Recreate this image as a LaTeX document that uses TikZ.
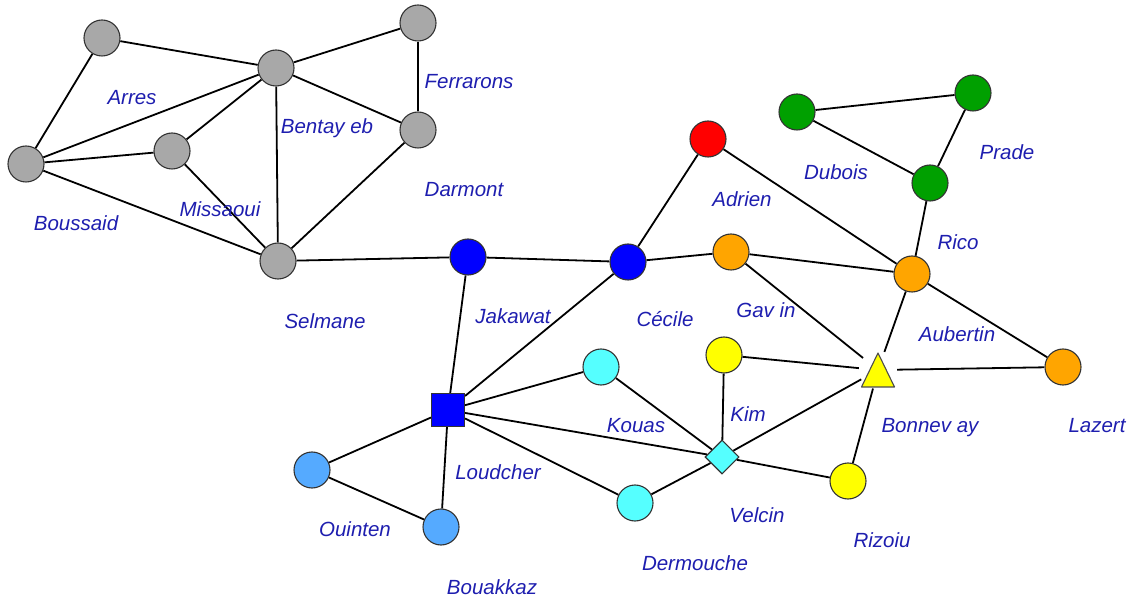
\documentclass[tikz,border=0pt]{standalone}
\usepackage{fontspec}
\setmainfont{Liberation Sans}
\usetikzlibrary{shapes.geometric,backgrounds,calc}
\definecolor{lbl}{RGB}{30,30,175}
\definecolor{cgray}{RGB}{168,168,168}
\definecolor{cblue}{RGB}{0,0,255}
\definecolor{cred}{RGB}{255,0,0}
\definecolor{corange}{RGB}{255,165,0}
\definecolor{cgreen}{RGB}{0,160,0}
\definecolor{cyellow}{RGB}{255,255,0}
\definecolor{ccyan}{RGB}{85,255,255}
\definecolor{clblue}{RGB}{85,170,255}
\begin{document}
\begin{tikzpicture}[x=1pt,y=-1pt,
  vtx/.style={circle,draw=black!80,line width=1.1pt,minimum size=36pt,inner sep=0pt},
  sqv/.style={rectangle,draw=black!80,line width=1.1pt,minimum size=33pt,inner sep=0pt},
  dmv/.style={diamond,draw=black!80,line width=1.1pt,minimum width=34pt,minimum height=34pt,inner sep=0pt},
  lab/.style={text=lbl,font=\fontsize{20.5}{24}\selectfont\itshape,inner sep=0pt},
  edge/.style={line width=1.8pt,black}]
\useasboundingbox (0,0) rectangle (1138,601);
% gray cluster
\node[vtx,fill=cgray] (g1) at (102,38) {};
\node[vtx,fill=cgray] (g2) at (418,23) {};
\node[vtx,fill=cgray] (bent) at (276,68) {};
\node[vtx,fill=cgray] (ferr) at (418,130) {};
\node[vtx,fill=cgray] (miss) at (172,151) {};
\node[vtx,fill=cgray] (bous) at (26,164) {};
\node[vtx,fill=cgray] (selm) at (278,261) {};
% blue / red
\node[vtx,fill=cblue] (jaka) at (468,257) {};
\node[vtx,fill=cblue] (ceci) at (628,262) {};
\node[vtx,fill=cred] (adri) at (708,139) {};
% orange
\node[vtx,fill=corange] (gavi) at (731,252) {};
\node[vtx,fill=corange] (rico) at (912,274) {};
\node[vtx,fill=corange] (laze) at (1063,367) {};
% green
\node[vtx,fill=cgreen] (dubo) at (797,112) {};
\node[vtx,fill=cgreen] (prad) at (973,93) {};
\node[vtx,fill=cgreen] (gric) at (930,183) {};
% yellow
\node[circle,minimum size=38pt,inner sep=0pt] (bonn) at (878,370) {};
\filldraw[fill=cyellow,draw=black!70,line width=1.1pt,line join=round]
  ($(bonn)+(0,-17)$) -- ($(bonn)+(16.5,17)$) -- ($(bonn)+(-16.5,17)$) -- cycle;
\node[vtx,fill=cyellow] (kim) at (724,355) {};
\node[vtx,fill=cyellow] (rizo) at (848,481) {};
% cyan
\node[dmv,fill=ccyan] (velc) at (722,457) {};
\node[vtx,fill=ccyan] (koua) at (601,367) {};
\node[vtx,fill=ccyan] (derm) at (635,503) {};
% loucher etc
\node[sqv,fill=cblue] (louc) at (448,410) {};
\node[vtx,fill=clblue] (ouin) at (312,470) {};
\node[vtx,fill=clblue] (boua) at (441,527) {};

\begin{pgfonlayer}{background}
\draw[edge] (g1) -- (bous);
\draw[edge] (g1) -- (bent);
\draw[edge] (bent) -- (g2);
\draw[edge] (g2) -- (ferr);
\draw[edge] (bent) -- (ferr);
\draw[edge] (bent) -- (bous);
\draw[edge] (bent) -- (miss);
\draw[edge] (bent) -- (selm);
\draw[edge] (bous) -- (miss);
\draw[edge] (bous) -- (selm);
\draw[edge] (miss) -- (selm);
\draw[edge] (ferr) -- (selm);
\draw[edge] (selm) -- (jaka);
\draw[edge] (jaka) -- (ceci);
\draw[edge] (jaka) -- (louc);
\draw[edge] (ceci) -- (adri);
\draw[edge] (ceci) -- (gavi);
\draw[edge] (ceci) -- (louc);
\draw[edge] (adri) -- (rico);
\draw[edge] (gavi) -- (rico);
\draw[edge] (gavi) -- (bonn);
\draw[edge] (rico) -- (gric);
\draw[edge] (dubo) -- (prad);
\draw[edge] (dubo) -- (gric);
\draw[edge] (prad) -- (gric);
\draw[edge] (rico) -- (laze);
\draw[edge] (rico) -- (bonn);
\draw[edge] (bonn) -- (laze);
\draw[edge] (bonn) -- (kim);
\draw[edge] (bonn) -- (velc);
\draw[edge] (bonn) -- (rizo);
\draw[edge] (kim) -- (velc);
\draw[edge] (velc) -- (rizo);
\draw[edge] (velc) -- (koua);
\draw[edge] (velc) -- (louc);
\draw[edge] (velc) -- (derm);
\draw[edge] (louc) -- (koua);
\draw[edge] (louc) -- (derm);
\draw[edge] (louc) -- (ouin);
\draw[edge] (louc) -- (boua);
\draw[edge] (ouin) -- (boua);
\end{pgfonlayer}

% labels
\node[lab] (l1) at (132,98) {Arres};
\node[lab] (l2) at (327,128) {Bentay eb};
\node[lab] (l3) at (469,82) {Ferrarons};
\node[lab] (l4) at (76,223) {Boussaid};
\node[lab] (l5) at (220,209) {Missaoui};
\node[lab] (l6) at (464,190) {Darmont};
\node[lab] (l7) at (325,321) {Selmane};
\node[lab] (l8) at (513,316) {Jakawat};
\node[lab] (l9) at (665,319) {Cécile};
\node[lab] (l10) at (742,199) {Adrien};
\node[lab] (l11) at (766,310) {Gav in};
\node[lab] (l12) at (836,172) {Dubois};
\node[lab] (l13) at (1007,152) {Prade};
\node[lab] (l14) at (958,242) {Rico};
\node[lab] (l15) at (957,334) {Aubertin};
\node[lab] (l16) at (930,428) {Bonnev ay};
\node[lab] (l17) at (1097,426) {Lazert};
\node[lab] (l18) at (748,414) {Kim};
\node[lab] (l19) at (636,426) {Kouas};
\node[lab] (l20) at (757,515) {Velcin};
\node[lab] (l21) at (695,563) {Dermouche};
\node[lab] (l22) at (882,540) {Rizoiu};
\node[lab] (l23) at (498,472) {Loudcher};
\node[lab] (l24) at (355,529) {Ouinten};
\node[lab] (l25) at (492,587) {Bouakkaz};
\end{tikzpicture}
\end{document}
